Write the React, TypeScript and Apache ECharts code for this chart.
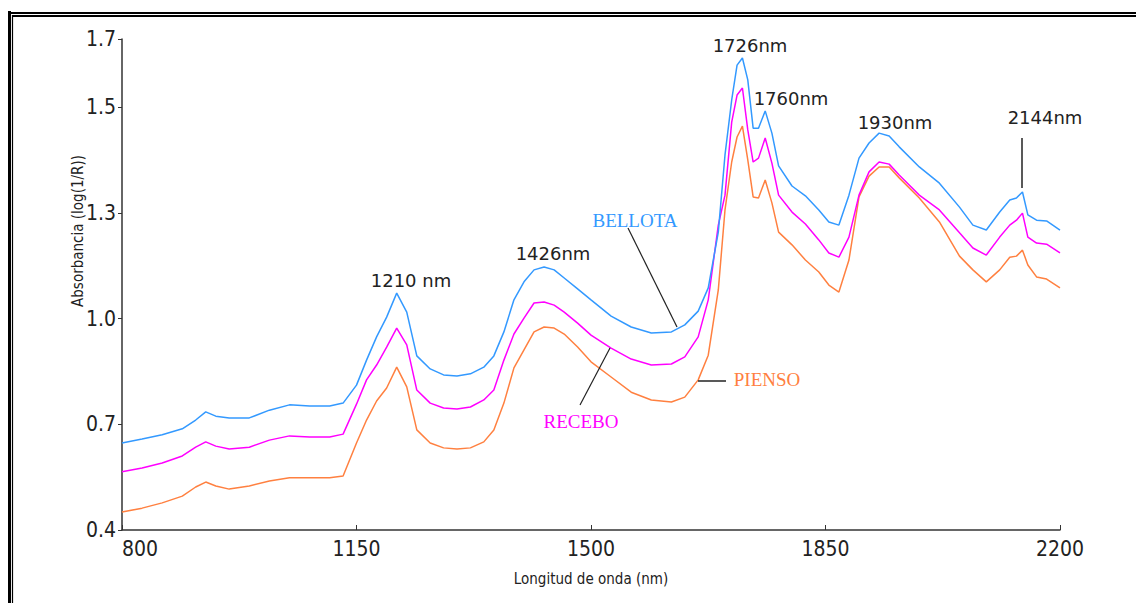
import React, { useEffect, useRef } from "react";
import * as echarts from "echarts";

// Wavelength grid (nm)
const wavelengths = [
  800, 830, 860, 890, 910, 925, 940, 960, 990, 1020,
  1050, 1080, 1110, 1130, 1150, 1165, 1180, 1195, 1210, 1225,
  1240, 1260, 1280, 1300, 1320, 1340, 1355, 1370, 1385, 1400,
  1415, 1430, 1445, 1460, 1480, 1500, 1530, 1560, 1590, 1620,
  1640, 1660, 1675, 1690, 1700, 1710, 1718, 1726, 1734, 1742,
  1750, 1760, 1770, 1780, 1800, 1820, 1840, 1855, 1870, 1885,
  1900, 1915, 1930, 1945, 1960, 1990, 2020, 2050, 2070, 2090,
  2110, 2125, 2135, 2144, 2152, 2165, 2180, 2200,
];

// Absorbance log(1/R)
const bellota = [
  0.647, 0.658, 0.670, 0.687, 0.712, 0.735, 0.723, 0.718, 0.718, 0.740,
  0.755, 0.752, 0.752, 0.760, 0.811, 0.882, 0.948, 1.004, 1.072, 1.018,
  0.894, 0.857, 0.840, 0.837, 0.843, 0.862, 0.894, 0.962, 1.053, 1.104,
  1.138, 1.146, 1.138, 1.115, 1.084, 1.053, 1.007, 0.976, 0.959, 0.962,
  0.982, 1.021, 1.087, 1.245, 1.464, 1.620, 1.719, 1.739, 1.677, 1.540,
  1.540, 1.589, 1.526, 1.433, 1.376, 1.348, 1.308, 1.274, 1.265, 1.350,
  1.455, 1.498, 1.526, 1.518, 1.487, 1.430, 1.384, 1.316, 1.265, 1.251,
  1.302, 1.336, 1.342, 1.359, 1.294, 1.279, 1.277, 1.251,
];

const recebo = [
  0.565, 0.576, 0.590, 0.610, 0.635, 0.650, 0.638, 0.630, 0.635, 0.655,
  0.667, 0.664, 0.664, 0.672, 0.757, 0.826, 0.868, 0.919, 0.973, 0.925,
  0.797, 0.760, 0.746, 0.743, 0.749, 0.769, 0.797, 0.882, 0.956, 1.001,
  1.044, 1.047, 1.038, 1.018, 0.987, 0.953, 0.916, 0.885, 0.868, 0.871,
  0.891, 0.948, 1.053, 1.265, 1.350, 1.557, 1.634, 1.654, 1.535, 1.444,
  1.455, 1.512, 1.441, 1.350, 1.302, 1.268, 1.223, 1.186, 1.174, 1.231,
  1.350, 1.416, 1.444, 1.438, 1.407, 1.350, 1.308, 1.243, 1.200, 1.180,
  1.231, 1.265, 1.279, 1.299, 1.231, 1.214, 1.211, 1.186,
];

const pienso = [
  0.451, 0.462, 0.477, 0.496, 0.522, 0.536, 0.525, 0.516, 0.525, 0.539,
  0.548, 0.548, 0.548, 0.553, 0.647, 0.712, 0.766, 0.803, 0.862, 0.806,
  0.684, 0.647, 0.633, 0.630, 0.633, 0.650, 0.684, 0.760, 0.860, 0.911,
  0.962, 0.976, 0.973, 0.956, 0.919, 0.877, 0.834, 0.791, 0.769, 0.763,
  0.777, 0.826, 0.896, 1.081, 1.308, 1.444, 1.515, 1.546, 1.450, 1.345,
  1.342, 1.393, 1.328, 1.245, 1.209, 1.166, 1.132, 1.095, 1.075, 1.166,
  1.345, 1.404, 1.430, 1.430, 1.399, 1.342, 1.274, 1.177, 1.138, 1.104,
  1.138, 1.174, 1.177, 1.194, 1.152, 1.118, 1.112, 1.087,
];

const xMin = 800;
const xMax = 2200;
const xInterval = 350;

const yMin = 0.4;
const yMax = 1.793;
const yInterval = 0.3;
const yTickValues = [0.4, 0.7, 1.0, 1.3, 1.6, 1.793];
const yTickLabels = ["0.4", "0.7", "1.0", "1.3", "1.5", "1.7"];

const peakLabels = ["1726nm", "1760nm", "1930nm", "2144nm", "1426nm", "1210 nm"];
const seriesNames = ["BELLOTA", "RECEBO", "PIENSO"];

const BLUE = "#3399ff";
const MAGENTA = "#ff00ff";
const ORANGE = "#ff8040";

const NARROW = "'Liberation Sans Narrow', 'DejaVu Sans Condensed', 'Liberation Sans', sans-serif";
const SANS = "'DejaVu Sans', 'Liberation Sans', sans-serif";
const SERIF = "'Liberation Serif', 'DejaVu Serif', serif";

export default function App() {
  const ref = useRef<HTMLDivElement>(null);

  useEffect(() => {
    document.body.style.margin = "0";
    if (!ref.current) return;
    const chart = echarts.init(ref.current, null, { renderer: "svg" });

    const toPairs = (arr: number[]) => wavelengths.map((w, i) => [w, arr[i]]);

    const peakPos = [
      { x: 750, y: 45 },
      { x: 791, y: 98 },
      { x: 895, y: 122 },
      { x: 1045, y: 117 },
      { x: 553, y: 253 },
      { x: 411, y: 280 },
    ];

    const textEl = (text: string, x: number, y: number, color: string, font: string, size: number) => ({
      type: "text",
      x,
      y,
      z: 100,
      style: {
        text,
        fill: color,
        font: `${size}px ${font}`,
        align: "center",
        verticalAlign: "middle",
      },
    });

    const lineEl = (x1: number, y1: number, x2: number, y2: number, w: number, color = "#000") => ({
      type: "line",
      z: 100,
      shape: { x1, y1, x2, y2 },
      style: { stroke: color, lineWidth: w },
    });

    const graphics: any[] = [
      // double frame
      lineEl(9.5, 11, 9.5, 700, 3),
      lineEl(8, 13, 1200, 13, 2),
      lineEl(12.5, 15, 12.5, 700, 1.2),
      lineEl(12, 16, 1200, 16, 2),
      // y axis title
      {
        type: "text",
        x: 78,
        y: 231,
        rotation: Math.PI / 2,
        z: 100,
        style: {
          text: "Absorbancia (log(1/R))",
          fill: "#222",
          font: `15px ${NARROW}`,
          align: "center",
          verticalAlign: "middle",
        },
      },
      ...peakLabels.map((t, i) => textEl(t, peakPos[i].x, peakPos[i].y, "#222", SANS, 18)),
      textEl(seriesNames[0], 635, 220, BLUE, SERIF, 19),
      textEl(seriesNames[1], 581, 421, MAGENTA, SERIF, 19),
      textEl(seriesNames[2], 767, 379, ORANGE, SERIF, 19),
      lineEl(628, 228, 677, 327, 1.2, "#222"),
      lineEl(610, 348, 580, 405, 1.2, "#222"),
      lineEl(698, 381, 726, 381, 1.5, "#222"),
      lineEl(1022, 138, 1022, 188, 1.5, "#222"),
    ];

    chart.setOption({
      animation: false,
      backgroundColor: "#fff",
      grid: { left: 122, right: 76, top: 39, bottom: 73, containLabel: false },
      xAxis: {
        type: "value",
        min: xMin,
        max: xMax,
        interval: xInterval,
        name: "Longitud de onda (nm)",
        nameLocation: "middle",
        nameGap: 41,
        nameTextStyle: { fontFamily: NARROW, fontSize: 15, color: "#222" },
        axisLine: { show: true, lineStyle: { color: "#333", width: 1.5 } },
        axisTick: { show: true, inside: true, length: 5, lineStyle: { color: "#333" } },
        splitLine: { show: false },
        axisLabel: {
          fontFamily: NARROW,
          fontSize: 21,
          color: "#222",
          margin: 8,
          alignMinLabel: "left",
          formatter: (v: number) => String(v),
        },
      },
      yAxis: {
        type: "value",
        min: yMin,
        max: yMax,
        interval: yInterval,
        axisLine: { show: true, lineStyle: { color: "#333", width: 1.5 } },
        axisTick: { show: true, inside: false, length: 4, lineStyle: { color: "#333" } },
        splitLine: { show: false },
        axisLabel: {
          fontFamily: NARROW,
          fontSize: 21,
          color: "#222",
          margin: 6,
          formatter: (v: number) => {
            const idx = yTickValues.findIndex((t) => Math.abs(t - v) < 0.01);
            return idx >= 0 ? yTickLabels[idx] : "";
          },
        },
      },
      series: [
        {
          name: seriesNames[2],
          type: "line",
          data: toPairs(pienso),
          showSymbol: false,
          lineStyle: { color: ORANGE, width: 1.5 },
          itemStyle: { color: ORANGE },
        },
        {
          name: seriesNames[1],
          type: "line",
          data: toPairs(recebo),
          showSymbol: false,
          lineStyle: { color: MAGENTA, width: 1.5 },
          itemStyle: { color: MAGENTA },
        },
        {
          name: seriesNames[0],
          type: "line",
          data: toPairs(bellota),
          showSymbol: false,
          lineStyle: { color: BLUE, width: 1.5 },
          itemStyle: { color: BLUE },
        },
      ],
      graphic: graphics,
    });

    return () => chart.dispose();
  }, []);

  return <div ref={ref} style={{ width: 1136, height: 603 }} />;
}
